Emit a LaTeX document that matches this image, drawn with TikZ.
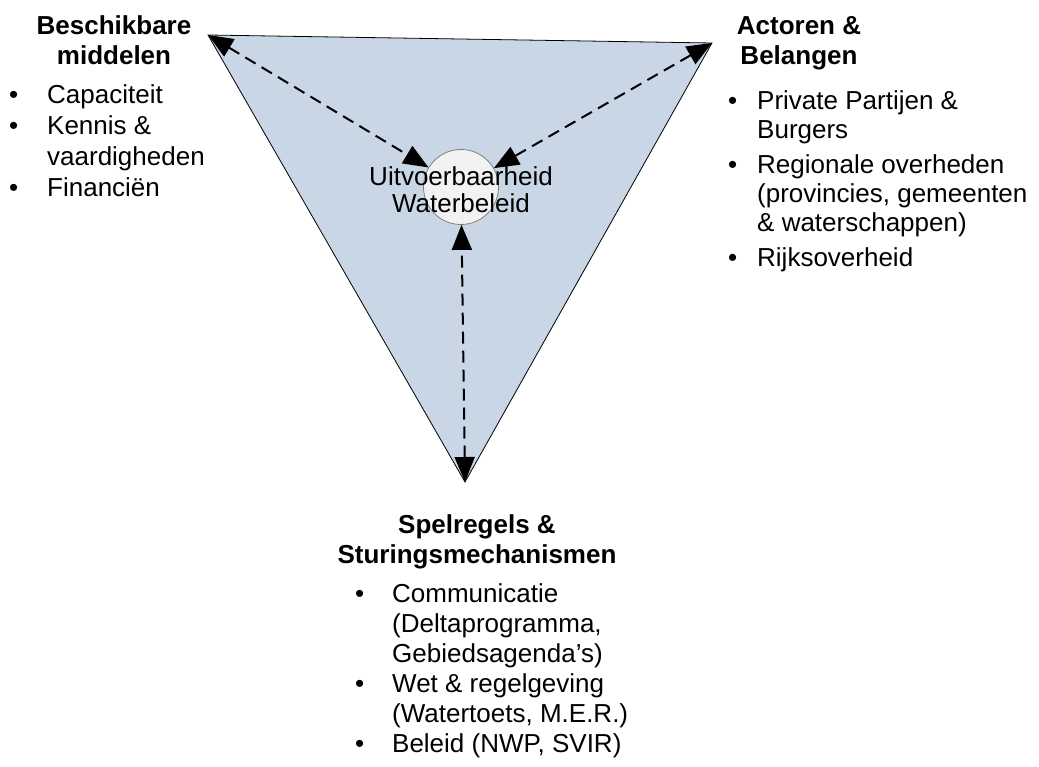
\documentclass[tikz,border=0pt]{standalone}
\usepackage{fontspec}
\setmainfont{Liberation Sans}
\usetikzlibrary{arrows.meta}
\definecolor{tri-fill}{HTML}{C9D6E6}
\definecolor{hub-fill}{HTML}{F2F2F2}
\definecolor{hub-line}{HTML}{7F7F7F}
\newcommand{\bl}[1]{\makebox[#1][l]{\textbullet}}

\begin{document}
\begin{tikzpicture}[x=1pt, y=-1pt,
    every node/.style={font=\fontsize{26}{30}\selectfont, inner sep=0pt},
    head/.style={font=\fontsize{26}{30}\selectfont\bfseries, anchor=base},
    items/.style={anchor=base west},
    link/.style={{Triangle[length=25pt,width=20pt]}-{Triangle[length=25pt,width=20pt]},
      line width=2pt, dash pattern=on 12pt off 7pt}]
  \useasboundingbox (0,0) rectangle (1039,767);

  % triangle with its three corners
  \coordinate (tl) at (208,35);
  \coordinate (tr) at (712,43);
  \coordinate (bot) at (465,482);
  \draw[line width=0.8pt, fill=tri-fill] (tl) -- (tr) -- (bot) -- cycle;

  \node[circle, draw=hub-line, fill=hub-fill, line width=0.8pt, minimum size=75pt]
    (hub) at (461,187) {};
  \draw[link] (tl) -- (hub);
  \draw[link] (tr) -- (hub);
  \draw[link] (bot) -- (hub);
  \node[align=center, font=\fontsize{26}{27}\selectfont] (hubtext) at (461,190)
    {Uitvoerbaarheid\\Waterbeleid};

  % corner labels
  \node[head] (means) at (114,35)
    {\begin{tabular}[t]{@{}c@{}}Beschikbare\\middelen\end{tabular}};
  \node[items, font=\fontsize{26}{31}\selectfont] (meanslist) at (9,104)
    {\begin{tabular}[t]{@{}l@{}l@{}}
      \bl{38pt} & Capaciteit\\
      \bl{38pt} & Kennis \&\\
                & vaardigheden\\
      \bl{38pt} & Financiën
    \end{tabular}};

  \node[head] (actors) at (799,35)
    {\begin{tabular}[t]{@{}c@{}}Actoren \&\\Belangen\end{tabular}};
  \node[items, font=\fontsize{26}{29}\selectfont] (actorslist) at (728,110)
    {\begin{tabular}[t]{@{}l@{}l@{}}
      \bl{29pt} & Private Partijen \&\\
                & Burgers\\[6pt]
      \bl{29pt} & Regionale overheden\\
                & (provincies, gemeenten\\
                & \& waterschappen)\\[6pt]
      \bl{29pt} & Rijksoverheid
    \end{tabular}};

  \node[head] (rules) at (477,533)
    {\begin{tabular}[t]{@{}c@{}}Spelregels \&\\Sturingsmechanismen\end{tabular}};
  \node[items] (ruleslist) at (355,602)
    {\begin{tabular}[t]{@{}l@{}l@{}}
      \bl{37pt} & Communicatie\\
                & (Deltaprogramma,\\
                & Gebiedsagenda’s)\\
      \bl{37pt} & Wet \& regelgeving\\
                & (Watertoets, M.E.R.)\\
      \bl{37pt} & Beleid (NWP, SVIR)
    \end{tabular}};
\end{tikzpicture}
\end{document}
